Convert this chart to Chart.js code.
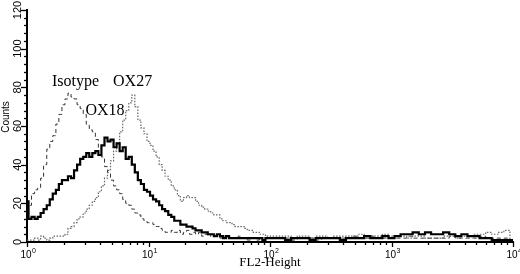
<!DOCTYPE html>
<html>
<head>
<meta charset="utf-8">
<script src="https://cdn.jsdelivr.net/npm/chart.js@4.4.0/dist/chart.umd.min.js"></script>
<style>
  html, body { margin: 0; padding: 0; background: #fff; }
  #histo { display: block; }
</style>
</head>
<body>
<canvas id="histo" width="520" height="274"></canvas>
<script>
//-- FL2 channel positions (log spaced, 40/decade up to 100, then 20/decade) --
const fl2Bins = [
  1.00, 1.06, 1.12, 1.19, 1.26, 1.33, 1.41, 1.50, 1.58, 1.68, 1.78, 1.88, 2.00, 2.11, 2.24, 2.37, 2.51, 2.66, 2.82, 2.99,
  3.16, 3.35, 3.55, 3.76, 3.98, 4.22, 4.47, 4.73, 5.01, 5.31, 5.62, 5.96, 6.31, 6.68, 7.08, 7.50, 7.94, 8.41, 8.91, 9.44,
  10.0, 10.6, 11.2, 11.9, 12.6, 13.3, 14.1, 15.0, 15.8, 16.8, 17.8, 18.8, 20.0, 21.1, 22.4, 23.7, 25.1, 26.6, 28.2, 29.9,
  31.6, 33.5, 35.5, 37.6, 39.8, 42.2, 44.7, 47.3, 50.1, 53.1, 56.2, 59.6, 63.1, 66.8, 70.8, 75.0, 79.4, 84.1, 89.1, 94.4,
  100, 112, 126, 141, 158, 178, 200, 224, 251, 282, 316, 355, 398, 447, 501, 562, 631, 708, 794, 891,
  1000, 1120, 1260, 1410, 1580, 1780, 2000, 2240, 2510, 2820, 3160, 3550, 3980, 4470, 5010, 5620, 6310, 7080, 7940, 8910,
  10000
];

//-- counts per channel --
const isotypeCounts = [
  17, 19, 25, 27, 28, 33, 40, 48, 52, 55, 61, 66, 71, 74, 77, 75, 74, 71, 69, 66,
  61, 58, 57, 53, 49, 44, 39, 36, 32, 29, 27, 25, 22, 20, 19, 17, 15, 14, 12, 11,
  10, 10, 9, 8, 7, 6, 5, 5, 6, 5, 6, 4, 5, 6, 4, 5, 4, 5, 3, 4,
  3, 4, 3, 3, 2, 3, 2, 3, 2, 2, 3, 2, 2, 1, 2, 2, 1, 2, 1, 2,
  2, 2, 2, 2, 1, 2, 2, 2, 1, 2, 2, 2, 2, 2, 3, 2, 2, 3, 2, 2,
  2, 2, 2, 3, 2, 2, 2, 2, 2, 2, 3, 2, 2, 2, 2, 3, 2, 2, 2, 2,
  1
];
const ox18Counts = [
  21, 12, 13, 12, 13, 15, 17, 19, 22, 25, 27, 30, 32, 32, 34, 33, 37, 40, 43, 44,
  46, 44, 46, 47, 45, 50, 54, 52, 53, 49, 51, 47, 49, 43, 44, 40, 36, 32, 30, 27,
  26, 24, 22, 21, 19, 17, 16, 14, 13, 11, 11, 9, 9, 8, 8, 7, 6, 6, 5, 5,
  4, 4, 3, 4, 3, 2, 3, 2, 2, 2, 2, 2, 2, 2, 2, 2, 2, 2, 1, 2,
  2, 2, 2, 1, 2, 2, 2, 1, 2, 2, 2, 2, 1, 2, 2, 2, 3, 2, 2, 3,
  2, 3, 4, 4, 5, 4, 5, 4, 4, 5, 4, 3, 4, 3, 3, 2, 2, 1, 1, 1,
  1
];
const ox27Counts = [
  1, 1, 1, 2, 1, 3, 2, 1, 2, 3, 3, 3, 3, 4, 7, 8, 10, 12, 13, 15,
  17, 19, 21, 23, 26, 29, 33, 37, 42, 47, 51, 57, 63, 68, 72, 76, 70, 63, 59, 56,
  52, 50, 47, 44, 40, 37, 34, 32, 29, 27, 24, 21, 23, 24, 23, 23, 21, 19, 18, 17,
  16, 15, 14, 14, 12, 11, 10, 10, 9, 8, 8, 8, 7, 6, 6, 5, 5, 4, 4, 3,
  3, 3, 3, 3, 2, 3, 3, 2, 3, 3, 2, 3, 3, 3, 3, 4, 3, 3, 3, 4,
  3, 3, 3, 2, 3, 3, 2, 2, 2, 3, 3, 2, 3, 3, 4, 4, 5, 4, 5, 6,
  1
];

//-- axis ticks and curve labels --
const yTickLabels = [0, 20, 40, 60, 80, 100, 120];
const yMinorStep = 4;
const xTickExponents = [0, 1, 2, 3, 4];
const curveLabels = ['Isotype', 'OX27', 'OX18'];
const curveLabelX = [2.51, 7.40, 4.39];
const curveLabelY = [83, 83, 68];

const toPoints = counts => fl2Bins.map((x, i) => ({ x, y: counts[i] }));

//-- plugin: tick marks, tick labels (10 with superscript), y title and curve names --
const axisDecor = {
  id: 'axisDecor',
  afterDraw(chart) {
    const { ctx, chartArea: a, scales: { x, y } } = chart;
    ctx.save();
    ctx.strokeStyle = '#000';
    ctx.fillStyle = '#000';
    ctx.lineWidth = 1.3;

    //-- y ticks, to the left of the axis --
    for (let v = 0; v <= 120; v += yMinorStep) {
      const py = Math.round(y.getPixelForValue(v)) + 0.5;
      const len = v % 20 === 0 ? 6 : 3;
      ctx.beginPath();
      ctx.moveTo(a.left - len, py);
      ctx.lineTo(a.left, py);
      ctx.stroke();
    }

    //-- x ticks, below the axis --
    for (let e = 0; e < 4; e++) {
      for (let m = 1; m <= 9; m++) {
        const px = Math.round(x.getPixelForValue(m * Math.pow(10, e))) + 0.5;
        const len = m === 1 ? 5 : 3;
        ctx.beginPath();
        ctx.moveTo(px, a.bottom);
        ctx.lineTo(px, a.bottom + len);
        ctx.stroke();
      }
    }
    const pEnd = Math.round(x.getPixelForValue(10000)) + 0.5;
    ctx.beginPath();
    ctx.moveTo(pEnd, a.bottom);
    ctx.lineTo(pEnd, a.bottom + 5);
    ctx.stroke();

    //-- y tick labels, rotated --
    ctx.font = '11px "Liberation Sans", Arial, sans-serif';
    ctx.textAlign = 'center';
    ctx.textBaseline = 'middle';
    yTickLabels.forEach(v => {
      ctx.save();
      ctx.translate(18, y.getPixelForValue(v));
      ctx.rotate(-Math.PI / 2);
      ctx.fillText(String(v), 0, 0);
      ctx.restore();
    });

    //-- y title, sits a little above the middle like the original --
    ctx.save();
    ctx.font = '10px "Liberation Sans", Arial, sans-serif';
    ctx.translate(6, 117);
    ctx.rotate(-Math.PI / 2);
    ctx.fillText('Counts', 0, 0);
    ctx.restore();

    //-- x tick labels: 10 with exponent --
    xTickExponents.forEach(e => {
      const px = x.getPixelForValue(Math.pow(10, e));
      ctx.font = '10px "Liberation Sans", Arial, sans-serif';
      ctx.textAlign = 'center';
      ctx.textBaseline = 'alphabetic';
      ctx.fillText('10', px - 1, a.bottom + 16);
      const w = ctx.measureText('10').width;
      ctx.font = '7px "Liberation Sans", Arial, sans-serif';
      ctx.textAlign = 'left';
      ctx.fillText(String(e), px - 1 + w / 2 + 0.5, a.bottom + 11);
    });

    //-- curve names --
    ctx.font = '16px "Liberation Serif", "Times New Roman", serif';
    ctx.textAlign = 'center';
    ctx.textBaseline = 'middle';
    curveLabels.forEach((t, i) => {
      ctx.fillText(t, x.getPixelForValue(curveLabelX[i]), y.getPixelForValue(curveLabelY[i]));
    });
    ctx.restore();
  }
};

new Chart(document.getElementById('histo').getContext('2d'), {
  type: 'line',
  data: {
    datasets: [
      {
        label: 'OX18',
        data: toPoints(ox18Counts),
        borderColor: '#000',
        borderWidth: 2.2,
        stepped: 'middle'
      },
      {
        label: 'OX27',
        data: toPoints(ox27Counts),
        borderColor: '#666',
        borderWidth: 1.2,
        borderDash: [1.5, 1.5],
        stepped: 'middle'
      },
      {
        label: 'Isotype',
        data: toPoints(isotypeCounts),
        borderColor: '#333',
        borderWidth: 1,
        borderDash: [4, 3],
        stepped: 'middle'
      }
    ]
  },
  options: {
    responsive: false,
    devicePixelRatio: 1,
    animation: false,
    layout: { padding: { top: 10, right: 7, left: 0, bottom: 0 } },
    elements: { point: { radius: 0 }, line: { tension: 0 } },
    plugins: { legend: { display: false }, tooltip: { enabled: false } },
    scales: {
      x: {
        type: 'logarithmic',
        min: 1,
        max: 10000,
        ticks: { display: false },
        grid: { display: true, drawOnChartArea: false, drawTicks: false },
        border: { display: true, color: '#000', width: 2 },
        title: {
          display: true,
          text: 'FL2-Height',
          color: '#000',
          font: { family: '"Liberation Serif", "Times New Roman", serif', size: 13 },
          padding: { top: 0, bottom: 4 }
        },
        afterFit: s => { s.height = 32; }
      },
      y: {
        min: 0,
        max: 120,
        ticks: { display: false },
        grid: { display: true, drawOnChartArea: false, drawTicks: false },
        border: { display: true, color: '#000', width: 2 },
        title: { display: false },
        afterFit: s => { s.width = 27; }
      }
    }
  },
  plugins: [axisDecor]
});
</script>
</body>
</html>
